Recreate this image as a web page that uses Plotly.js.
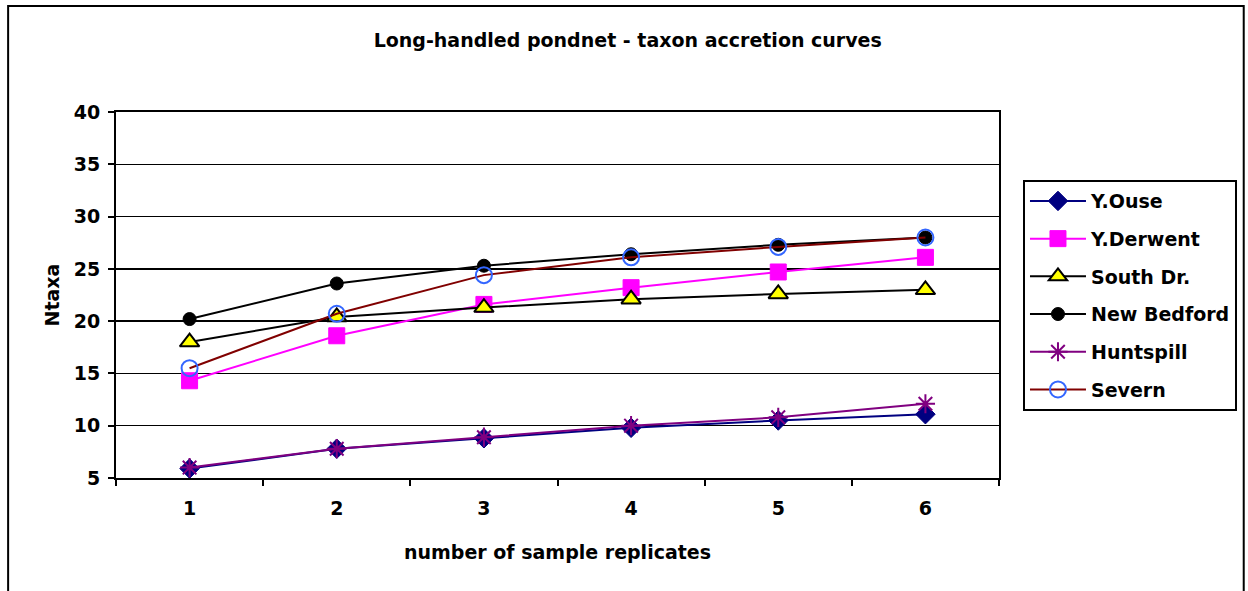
<!DOCTYPE html>
<html>
<head>
<meta charset="utf-8">
<script src="https://cdn.plot.ly/plotly-3.0.1.min.js"></script>
<style>
html,body{margin:0;padding:0;background:#fff;}
#chart{width:1248px;height:591px;}
</style>
</head>
<body>
<div id="chart"></div>
<script>
const replicates = ["1", "2", "3", "4", "5", "6"];
const yOuse      = [5.9, 7.8, 8.8, 9.8, 10.5, 11.1];
const yDerwent   = [14.3, 18.6, 21.6, 23.2, 24.7, 26.1];
const southDr    = [18.0, 20.4, 21.3, 22.1, 22.6, 23.0];
const newBedford = [20.2, 23.6, 25.3, 26.4, 27.3, 28.0];
const huntspill  = [6.0, 7.8, 8.9, 10.0, 10.8, 12.1];
const severn     = [15.5, 20.7, 24.4, 26.1, 27.1, 28.0];
const yTicks = [5, 10, 15, 20, 25, 30, 35, 40];

const F = "'DejaVu Sans', Arial, sans-serif";
const FS = 19;

function tr(name, y, lineColor, symbol, size, fill, mline, mlw, grp) {
  return {
    x: replicates, y: y, name: "<b>" + name + "</b>", type: "scatter", mode: "lines+markers",
    legendgroup: grp,
    line: {color: lineColor, width: 2},
    marker: {symbol: symbol, size: size, color: fill, line: {color: mline, width: mlw}}
  };
}

const data = [
  tr("Y.Ouse", yOuse, "#000080", "diamond", 15, "#000080", "#000080", 1, "a"),
  tr("Y.Derwent", yDerwent, "#FF00FF", "square", 16, "#FF00FF", "#FF00FF", 1, "b"),
  tr("South Dr.", southDr, "#000000", "triangle-up", 17, "#FFFF00", "#000000", 2, "c"),
  tr("New Bedford", newBedford, "#000000", "circle", 13, "#000000", "#000000", 1, "d"),
  tr("Huntspill", huntspill, "#800080", "asterisk-open", 16, "#800080", "#800080", 2, "e"),
  tr("Severn", severn, "#800000", "circle-open", 16, "#3366FF", "#3366FF", 2, "f")
];

const layout = {
  width: 1248, height: 591,
  paper_bgcolor: "#ffffff", plot_bgcolor: "#ffffff",
  margin: {l: 116, r: 248, t: 112, b: 113},
  font: {family: F, color: "#000000"},
  title: {
    text: "<b>Long-handled pondnet - taxon accretion curves</b>",
    font: {family: F, size: FS, color: "#000"},
    x: 0.503, xref: "container", xanchor: "center",
    y: 0.932, yref: "container", yanchor: "middle"
  },
  xaxis: {
    type: "category",
    tickson: "boundaries",
    range: [-0.5, 5.5],
    showgrid: false,
    showline: true, linecolor: "#000", linewidth: 2, mirror: true,
    ticks: "outside", ticklen: 6, tickwidth: 2, tickcolor: "#000",
    tickfont: {family: F, size: FS, color: "#000"},
    ticklabelstandoff: 12,
    tickprefix: "<b>", ticksuffix: "</b>",
    title: {text: "<b>number of sample replicates</b>", font: {family: F, size: FS, color: "#000"}, standoff: 28},
    zeroline: false, fixedrange: true
  },
  yaxis: {
    range: [5, 40],
    tickvals: yTicks,
    ticktext: yTicks.map(v => "<b>" + v + "</b>"),
    showgrid: true, gridcolor: "#000", gridwidth: 1.5,
    showline: true, linecolor: "#000", linewidth: 2, mirror: true,
    ticks: "outside", ticklen: 6, tickwidth: 2, tickcolor: "#000",
    tickfont: {family: F, size: FS, color: "#000"},
    ticklabelstandoff: 4,
    title: {text: "<b>Ntaxa</b>", font: {family: F, size: FS, color: "#000"}, standoff: 9},
    zeroline: false, fixedrange: true
  },
  legend: {
    x: 1.026, xanchor: "left", xref: "paper",
    y: 0.814, yanchor: "top", yref: "paper",
    bordercolor: "#000", borderwidth: 2, bgcolor: "#fff",
    font: {family: F, size: FS, color: "#000"},
    tracegroupgap: 10,
    itemwidth: 56
  },
  showlegend: true,
  shapes: [{
    type: "rect", xref: "paper", yref: "paper", layer: "above",
    x0: (8 - 116) / 884, x1: (1245 - 116) / 884,
    y0: (478 - 620) / 366, y1: (478 - 6) / 366,
    line: {color: "#000", width: 2}, fillcolor: "rgba(0,0,0,0)"
  }]
};

Plotly.newPlot("chart", data, layout, {staticPlot: true, displayModeBar: false});
</script>
</body>
</html>
